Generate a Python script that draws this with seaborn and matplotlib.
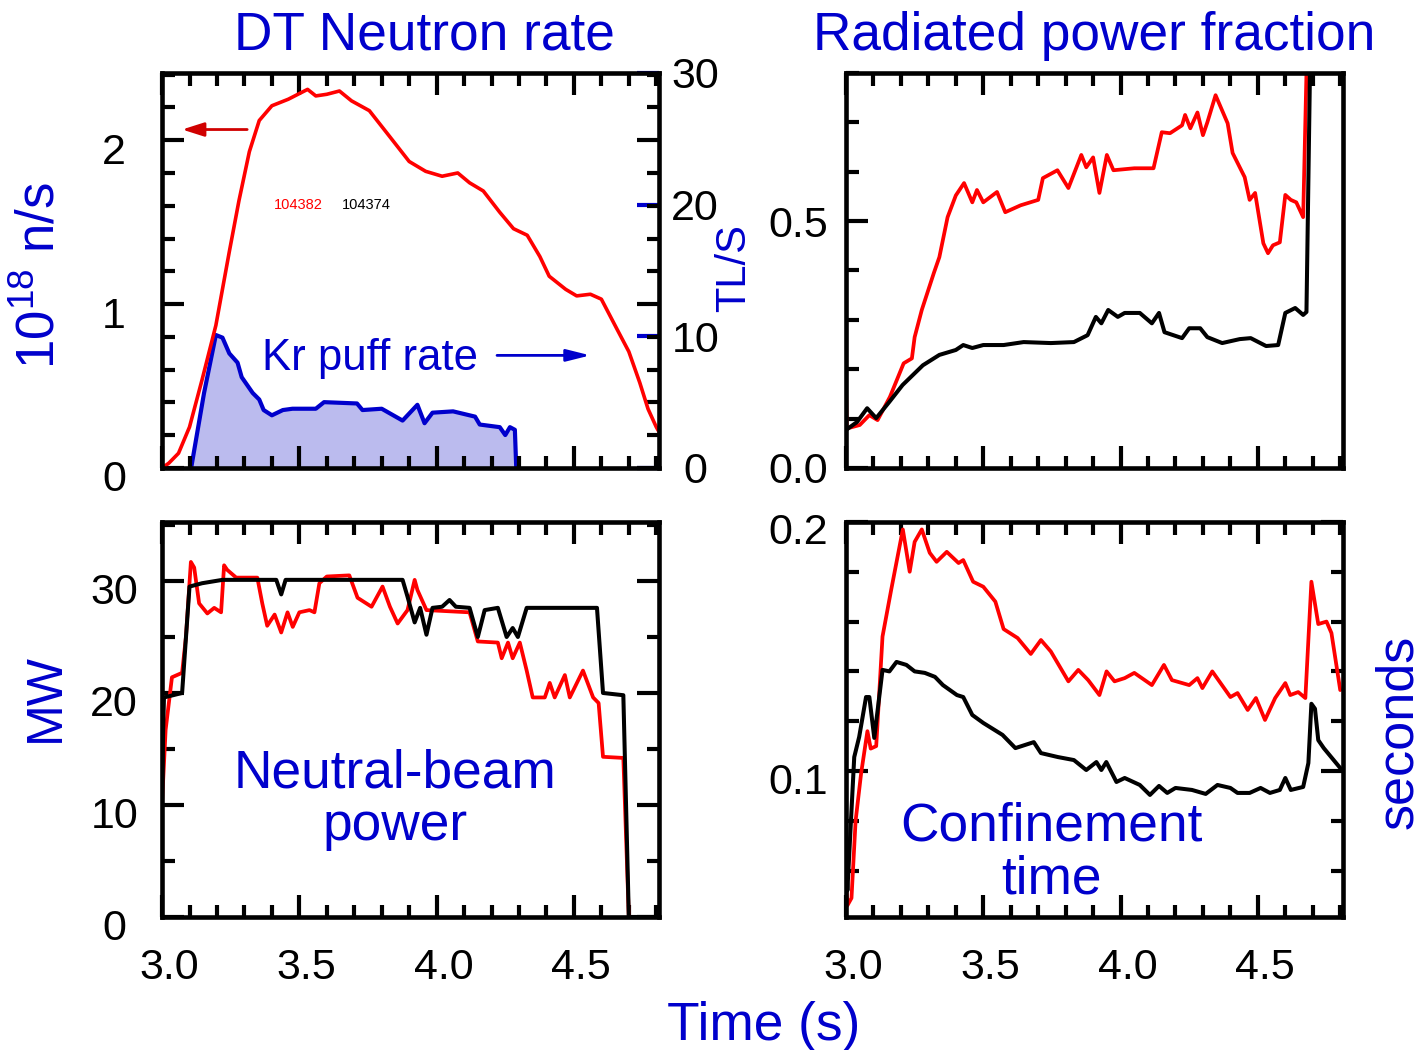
import numpy as np
import matplotlib
matplotlib.use("Agg")
import matplotlib.pyplot as plt
import seaborn as sns
from matplotlib.ticker import MultipleLocator, FixedLocator
from matplotlib.transforms import ScaledTranslation

# ---------------- data ----------------
shot_a = "104382"   # red
shot_b = "104374"   # black

# DT neutron rate (10^18 n/s), shot 104382
nr_t = [3.0, 3.025, 3.06, 3.1, 3.146, 3.196, 3.245, 3.28, 3.318, 3.354, 3.40, 3.46, 3.53, 3.56,
        3.60, 3.646, 3.69, 3.755, 3.83, 3.90, 3.96, 4.02, 4.077, 4.12, 4.17, 4.23, 4.28, 4.33,
        4.376, 4.41, 4.47, 4.51, 4.56, 4.60, 4.656, 4.70, 4.74, 4.77, 4.80, 4.81]
nr_v = [0.0, 0.03, 0.09, 0.25, 0.54, 0.87, 1.32, 1.63, 1.93, 2.12, 2.21, 2.25, 2.31, 2.27,
        2.28, 2.30, 2.24, 2.18, 2.02, 1.87, 1.81, 1.78, 1.80, 1.74, 1.69, 1.56, 1.46, 1.42,
        1.29, 1.17, 1.09, 1.05, 1.06, 1.03, 0.85, 0.71, 0.52, 0.36, 0.25, 0.22]

# Kr puff rate (TL/S)
kr_t = [3.106, 3.153, 3.196, 3.22, 3.245, 3.275, 3.29, 3.33, 3.354, 3.37, 3.40, 3.44, 3.475,
        3.56, 3.59, 3.71, 3.73, 3.80, 3.876, 3.93, 3.956, 3.985, 4.06, 4.14, 4.157, 4.23, 4.25,
        4.267, 4.285, 4.29]
kr_v = [0.0, 5.7, 10.1, 9.9, 8.7, 8.0, 6.9, 5.7, 5.2, 4.4, 4.0, 4.4, 4.5,
        4.5, 5.0, 4.9, 4.4, 4.5, 3.6, 4.8, 3.4, 4.2, 4.3, 3.9, 3.3, 3.1, 2.5,
        3.1, 2.9, 0.0]

# Radiated power fraction
rad_a_t = [3.0, 3.003, 3.05, 3.085, 3.115, 3.16, 3.21, 3.24, 3.25, 3.276, 3.32, 3.34, 3.37, 3.40,
           3.43, 3.46, 3.477, 3.50, 3.55, 3.58, 3.636, 3.70, 3.717, 3.77, 3.81, 3.857, 3.875,
           3.90, 3.923, 3.95, 3.974, 4.05, 4.12, 4.15, 4.18, 4.224, 4.235, 4.254, 4.28, 4.30,
           4.316, 4.346, 4.39, 4.408, 4.452, 4.47, 4.49, 4.52, 4.537, 4.555, 4.58, 4.60, 4.62,
           4.64, 4.665, 4.677, 4.685]
rad_a_v = [0.165, 0.08, 0.087, 0.107, 0.097, 0.144, 0.212, 0.222, 0.265, 0.32, 0.395, 0.427, 0.508,
           0.552, 0.577, 0.538, 0.563, 0.538, 0.559, 0.518, 0.532, 0.543, 0.587, 0.603, 0.567,
           0.634, 0.609, 0.629, 0.557, 0.634, 0.603, 0.607, 0.607, 0.68, 0.678, 0.694, 0.715,
           0.688, 0.72, 0.674, 0.70, 0.755, 0.698, 0.638, 0.589, 0.543, 0.557, 0.455, 0.435,
           0.451, 0.457, 0.553, 0.543, 0.538, 0.508, 0.80, 1.0]
rad_b_t = [3.0, 3.04, 3.077, 3.11, 3.158, 3.206, 3.28, 3.34, 3.40, 3.427, 3.46, 3.50, 3.574, 3.647,
           3.746, 3.83, 3.88, 3.91, 3.93, 3.955, 3.99, 4.015, 4.07, 4.114, 4.14, 4.16, 4.224,
           4.25, 4.29, 4.316, 4.37, 4.434, 4.474, 4.53, 4.574, 4.60, 4.636, 4.665, 4.677, 4.695]
rad_b_v = [0.077, 0.093, 0.121, 0.101, 0.134, 0.168, 0.208, 0.229, 0.239, 0.249, 0.243, 0.249,
           0.249, 0.255, 0.253, 0.255, 0.269, 0.306, 0.293, 0.32, 0.306, 0.314, 0.314, 0.293,
           0.314, 0.275, 0.263, 0.283, 0.283, 0.265, 0.253, 0.261, 0.263, 0.247, 0.249, 0.314,
           0.324, 0.31, 0.316, 1.0]

# Neutral-beam power (MW)
nb_a_t = [3.0, 3.013, 3.036, 3.073, 3.087, 3.105, 3.117, 3.135, 3.165, 3.19, 3.215, 3.226, 3.237,
          3.27, 3.347, 3.365, 3.383, 3.41, 3.434, 3.457, 3.476, 3.50, 3.537, 3.555, 3.573, 3.60,
          3.682, 3.712, 3.763, 3.803, 3.83, 3.858, 3.894, 3.92, 3.93, 3.963, 4.12, 4.15, 4.223,
          4.237, 4.26, 4.277, 4.303, 4.328, 4.35, 4.394, 4.412, 4.43, 4.467, 4.485, 4.533, 4.57,
          4.59, 4.606, 4.68, 4.70, 4.81]
nb_a_v = [10.2, 16.7, 21.4, 21.8, 25.0, 31.7, 31.2, 28.0, 27.1, 27.6, 27.2, 31.4, 31.0,
          30.3, 30.3, 28.0, 26.0, 27.0, 25.4, 27.2, 25.9, 27.2, 27.4, 27.2, 29.8, 30.4,
          30.5, 28.5, 27.7, 29.5, 27.7, 26.2, 27.4, 30.1, 29.2, 27.4, 27.2, 24.6, 24.5,
          23.1, 24.5, 23.1, 24.5, 22.0, 19.6, 19.6, 20.9, 19.6, 21.6, 19.6, 22.0, 19.6,
          19.1, 14.3, 14.2, 0.0, 0.0]
nb_b_t = [3.0, 3.007, 3.073, 3.1, 3.146, 3.22, 3.416, 3.434, 3.45, 3.876, 3.894, 3.92, 3.94, 3.963,
          3.985, 4.02, 4.047, 4.07, 4.12, 4.15, 4.175, 4.223, 4.255, 4.277, 4.296, 4.328, 4.584,
          4.606, 4.68, 4.70, 4.81]
nb_b_v = [12.9, 19.6, 20.0, 29.5, 29.8, 30.1, 30.1, 28.8, 30.1, 30.1, 28.6, 26.3, 27.6, 25.2,
          27.6, 27.7, 28.3, 27.7, 27.6, 25.0, 27.4, 27.6, 25.0, 25.8, 25.0, 27.6, 27.6,
          20.0, 19.8, 0.0, 0.0]

# Confinement time (s)
tau_a_t = [3.0, 3.005, 3.02, 3.035, 3.055, 3.078, 3.09, 3.11, 3.133, 3.165, 3.207, 3.232, 3.25,
           3.276, 3.305, 3.33, 3.367, 3.41, 3.427, 3.463, 3.5, 3.544, 3.574, 3.625, 3.673, 3.71,
           3.746, 3.81, 3.846, 3.882, 3.923, 3.949, 3.978, 4.015, 4.05, 4.114, 4.158, 4.187,
           4.25, 4.28, 4.298, 4.334, 4.40, 4.426, 4.463, 4.493, 4.526, 4.563, 4.60, 4.618,
           4.647, 4.673, 4.695, 4.72, 4.75, 4.768, 4.80]
tau_a_v = [0.0562, 0.046, 0.049, 0.080, 0.099, 0.116, 0.109, 0.110, 0.154, 0.173, 0.197, 0.180,
           0.192, 0.197, 0.1876, 0.184, 0.188, 0.1835, 0.1847, 0.176, 0.174, 0.168, 0.157,
           0.1534, 0.147, 0.1526, 0.148, 0.136, 0.1406, 0.1365, 0.1305, 0.14, 0.136, 0.1373,
           0.1394, 0.1345, 0.1426, 0.1365, 0.1345, 0.1373, 0.1333, 0.14, 0.1297, 0.1313,
           0.1245, 0.1293, 0.1205, 0.1293, 0.1353, 0.1305, 0.1317, 0.1293, 0.176, 0.159, 0.16,
           0.1554, 0.1325]
tau_b_t = [3.0, 3.005, 3.03, 3.048, 3.073, 3.085, 3.103, 3.133, 3.158, 3.184, 3.22, 3.25, 3.287,
           3.324, 3.353, 3.404, 3.427, 3.46, 3.50, 3.57, 3.617, 3.684, 3.71, 3.772, 3.83, 3.875,
           3.912, 3.93, 3.948, 3.985, 4.015, 4.07, 4.107, 4.14, 4.17, 4.2, 4.26, 4.31, 4.353,
           4.40, 4.426, 4.47, 4.51, 4.544, 4.58, 4.60, 4.62, 4.665, 4.684, 4.695, 4.708, 4.72,
           4.74, 4.80]
tau_b_v = [0.0655, 0.052, 0.1056, 0.1137, 0.1297, 0.1297, 0.1133, 0.1406, 0.14, 0.1438, 0.1426,
           0.14, 0.1394, 0.1378, 0.1345, 0.1305, 0.1297, 0.1225, 0.1193, 0.1145, 0.1092,
           0.1116, 0.1072, 0.1056, 0.1044, 0.1004, 0.1036, 0.1004, 0.1036, 0.0956, 0.0972,
           0.0944, 0.0904, 0.094, 0.0912, 0.0932, 0.0924, 0.0908, 0.0944, 0.0932, 0.0912,
           0.0912, 0.0932, 0.0912, 0.0924, 0.0972, 0.0924, 0.0936, 0.1032, 0.127, 0.125,
           0.1124, 0.1092, 0.1012]

# ---------------- style ----------------
sns.set_theme(style="ticks")
plt.rcParams.update({
    "font.family": ["Liberation Sans", "DejaVu Sans"],
    "mathtext.fontset": "custom",
    "mathtext.rm": "Liberation Sans",
    "mathtext.it": "Liberation Sans:italic",
    "mathtext.bf": "Liberation Sans:bold",
    "axes.linewidth": 3.3,
    "axes.edgecolor": "black",
})

BLUE = "#0000CC"
RED = "#FF0000"
FILL = "#BBBBEE"
ARROWRED = "#D00000"
TICKFS = 31
BIGFS = 38.3

fig = plt.figure(figsize=(14.24, 10.5), dpi=100)
W, H = 0.349, 0.3762
xl, xr = 0.1138, 0.5941
yt, yb = 0.5543, 0.1267

ax_nr = fig.add_axes([xl, yt, W, H])
ax_rad = fig.add_axes([xr, yt, W, H])
ax_nb = fig.add_axes([xl, yb, W, H])
ax_tau = fig.add_axes([xr, yb, W, H])


def line(ax, t, v, color, lw):
    sns.lineplot(x=np.asarray(t), y=np.asarray(v), ax=ax, color=color, linewidth=lw,
                 estimator=None, sort=False, legend=False)


# Neutron rate + Kr puff
ax_kr = ax_nr.twinx()
ax_kr.fill_between(kr_t, 0, kr_v, color=FILL, linewidth=0)
line(ax_kr, kr_t, kr_v, BLUE, 3.0)
ax_kr.set_ylim(0, 30)
ax_kr.yaxis.set_major_locator(FixedLocator([0, 10, 20, 30]))
ax_kr.tick_params(axis="y", which="major", direction="in", right=True, left=False,
                  length=16, width=3, color=BLUE, labelcolor="black",
                  labelsize=TICKFS, pad=26)
ax_kr.yaxis.set_minor_locator(FixedLocator([]))
for s in ax_kr.spines.values():
    s.set_visible(False)
ax_kr.set_ylabel("")
ax_nr.set_zorder(ax_kr.get_zorder() + 1)
ax_nr.patch.set_visible(False)

line(ax_nr, nr_t, nr_v, RED, 2.6)
ax_nr.set_ylim(0, 2.41)

line(ax_rad, rad_a_t, rad_a_v, RED, 2.7)
line(ax_rad, rad_b_t, rad_b_v, "black", 2.9)
ax_rad.set_ylim(0, 0.80)

line(ax_nb, nb_a_t, nb_a_v, RED, 2.7)
line(ax_nb, nb_b_t, nb_b_v, "black", 2.9)
ax_nb.set_ylim(0, 35.27)

line(ax_tau, tau_a_t, tau_a_v, RED, 2.7)
line(ax_tau, tau_b_t, tau_b_v, "black", 2.9)
ax_tau.set_ylim(0.0414, 0.2)


def style(ax, ymaj, ymin, right=True, xlabels=False):
    ax.set_xlim(3.0, 4.81)
    ax.xaxis.set_major_locator(MultipleLocator(0.5))
    ax.xaxis.set_minor_locator(MultipleLocator(0.1))
    ax.yaxis.set_major_locator(MultipleLocator(ymaj))
    ax.yaxis.set_minor_locator(MultipleLocator(ymin))
    ax.tick_params(which="both", direction="in", top=True, bottom=True, left=True,
                   right=right, width=3, color="black", labelcolor="black")
    ax.tick_params(which="major", length=16)
    ax.tick_params(which="minor", length=9)
    ax.tick_params(axis="x", labelbottom=xlabels, labeltop=False, pad=22, labelsize=TICKFS)
    ax.tick_params(axis="y", labelleft=True, labelright=False, pad=34.5, labelsize=TICKFS)
    for s in ax.spines.values():
        s.set_visible(True)
        s.set_linewidth(3.3)
        s.set_color("black")
    ax.set_xlabel("")
    ax.set_ylabel("")


style(ax_nr, 1, 0.2, right=True)
style(ax_rad, 0.5, 0.1, right=False)
style(ax_nb, 10, 5, right=True, xlabels=True)
style(ax_tau, 0.1, 0.02, right=True, xlabels=True)

# annotations in neutron panel
ax_nr.annotate("", xy=(3.073, 2.065), xytext=(3.31, 2.065),
               arrowprops=dict(arrowstyle="-|>,head_length=1.1,head_width=0.35",
                               color=ARROWRED, lw=2.0, shrinkA=0, shrinkB=0))
ax_nr.annotate("", xy=(4.56, 0.687), xytext=(4.22, 0.687),
               arrowprops=dict(arrowstyle="-|>,head_length=1.2,head_width=0.3",
                               color=BLUE, lw=2.0, shrinkA=0, shrinkB=0))
ax_nr.text(3.365, 0.60, "Kr puff rate", color=BLUE, fontsize=31.5, ha="left", va="baseline")
ax_nr.text(3.496, 1.607, shot_a, color=RED, fontsize=10.5, ha="center", va="center")
ax_nr.text(3.745, 1.607, shot_b, color="black", fontsize=10.5, ha="center", va="center")

ax_nb.text(3.85, 11.55, "Neutral-beam", color=BLUE, fontsize=BIGFS, ha="center", va="baseline")
ax_nb.text(3.85, 6.85, "power", color=BLUE, fontsize=BIGFS, ha="center", va="baseline")
ax_tau.text(3.75, 0.0723, "Confinement", color=BLUE, fontsize=BIGFS, ha="center", va="baseline")
ax_tau.text(3.75, 0.0509, "time", color=BLUE, fontsize=BIGFS, ha="center", va="baseline")

# titles and axis labels
fig.text(424 / 1424, 1 - 50 / 1050, "DT Neutron rate", color=BLUE, fontsize=BIGFS,
         ha="center", va="baseline")
fig.text(1094 / 1424, 1 - 50 / 1050, "Radiated power fraction", color=BLUE, fontsize=BIGFS,
         ha="center", va="baseline")
fig.text(764 / 1424, 1 - 1040 / 1050, "Time (s)", color=BLUE, fontsize=BIGFS,
         ha="center", va="baseline")
fig.text(40 / 1424, 1 - 276 / 1050, r"$\mathregular{10^{18}}$ n/s", color=BLUE, fontsize=38,
         rotation=90, ha="center", va="center")
fig.text(734 / 1424, 1 - 268 / 1050, "TL/S", color=BLUE, fontsize=30,
         rotation=90, ha="center", va="center")
fig.text(46 / 1424, 1 - 697 / 1050, "MW", color=BLUE, fontsize=36,
         rotation=90, ha="center", va="center")
fig.text(1399 / 1424, 1 - 732 / 1050, "seconds", color=BLUE, fontsize=37.5,
         rotation=90, ha="center", va="center")

# tick-label alignment tweaks
fig.canvas.draw()
dx = ScaledTranslation(7 / 100, 0, fig.dpi_scale_trans)
shifts = {ax_nr: -8, ax_rad: 0, ax_nb: -8, ax_tau: -7, ax_kr: 0}
for ax, sh in shifts.items():
    off = ScaledTranslation(0, sh / 100, fig.dpi_scale_trans)
    for lab in ax.yaxis.get_majorticklabels():
        lab.set_horizontalalignment("center")
        lab.set_transform(lab.get_transform() + off)
for ax in (ax_nb, ax_tau):
    for lab in ax.xaxis.get_majorticklabels():
        lab.set_transform(lab.get_transform() + dx)

fig.savefig("out.png", dpi=100)
